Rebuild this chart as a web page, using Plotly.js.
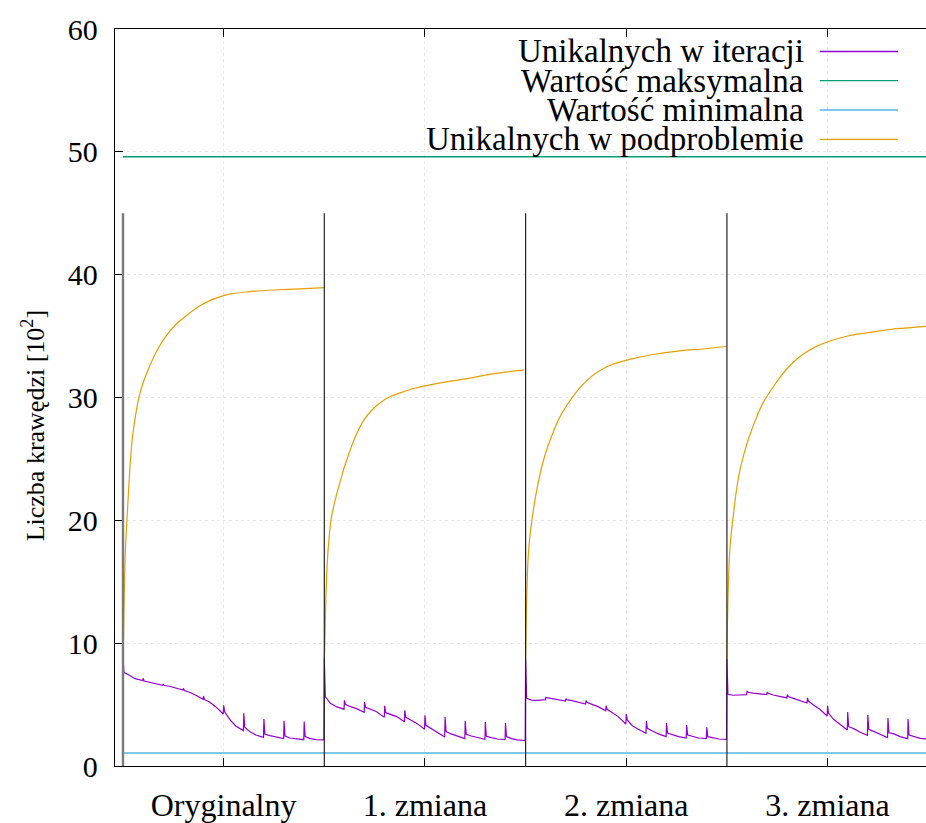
<!DOCTYPE html>
<html>
<head>
<meta charset="utf-8">
<script src="https://cdn.plot.ly/plotly-3.0.1.min.js"></script>
<style>
  html, body { margin: 0; padding: 0; background: #fff; }
  #chart { width: 926px; height: 823px; }
</style>
</head>
<body>
<div id="chart"></div>
<script>
// Problem variants (one block of iterations per variant)
const categories = ["Oryginalny", "1. zmiana", "2. zmiana", "3. zmiana"];
const segmentStarts = [0, 1, 2, 3];
const separatorTop = 45;

// Position of each iteration sample inside a block (0..1)
const iterPos = [
  0, 0.005, 0.03, 0.06,
  0.098, 0.1, 0.105, 0.13, 0.16,
  0.198, 0.2, 0.205, 0.23, 0.26,
  0.298, 0.3, 0.305, 0.33, 0.36,
  0.398, 0.4, 0.405, 0.43, 0.46,
  0.498, 0.5, 0.505, 0.53, 0.56,
  0.598, 0.6, 0.605, 0.63, 0.66,
  0.698, 0.7, 0.705, 0.73, 0.76,
  0.798, 0.8, 0.805, 0.83, 0.86,
  0.898, 0.9, 0.905, 0.93, 0.96,
  0.998
];

// Unique edges per iteration [10^2]
const iterOriginal = [
  8.85, 7.60, 7.41, 7.11,
  6.95, 7.14, 6.92, 6.81, 6.70,
  6.57, 6.68, 6.55, 6.49, 6.38,
  6.19, 6.32, 6.15, 6.00, 5.78,
  5.43, 5.70, 5.40, 5.21, 4.83,
  4.23, 4.94, 4.42, 3.80, 3.26,
  2.88, 4.29, 3.15, 2.80, 2.52,
  2.33, 3.83, 2.58, 2.47, 2.34,
  2.23, 3.69, 2.44, 2.28, 2.20,
  2.14, 3.61, 2.39, 2.23, 2.14,
  2.12
];
const iterChange1 = [
  8.77, 5.65, 5.10, 4.83,
  4.61, 5.35, 5.02, 4.83, 4.67,
  4.37, 5.21, 4.78, 4.59, 4.42,
  3.96, 4.91, 4.34, 4.18, 4.02,
  3.61, 4.53, 3.96, 3.75, 3.47,
  2.99, 4.13, 3.31, 3.07, 2.77,
  2.36, 3.99, 2.80, 2.61, 2.44,
  2.23, 3.66, 2.58, 2.44, 2.31,
  2.17, 3.58, 2.42, 2.31, 2.20,
  2.14, 3.50, 2.39, 2.23, 2.12,
  2.06
];
const iterChange2 = [
  8.77, 5.51, 5.37, 5.35,
  5.40, 5.59, 5.56, 5.48, 5.37,
  5.29, 5.48, 5.40, 5.32, 5.21,
  5.05, 5.32, 5.18, 5.02, 4.83,
  4.50, 4.91, 4.61, 4.34, 4.02,
  3.42, 4.23, 3.75, 3.28, 2.99,
  2.66, 3.66, 3.07, 2.85, 2.61,
  2.39, 3.50, 2.69, 2.55, 2.39,
  2.28, 3.34, 2.52, 2.42, 2.28,
  2.23, 3.15, 2.39, 2.28, 2.20,
  2.17
];
const iterChange3 = [
  8.71, 5.84, 5.76, 5.78,
  5.81, 6.13, 6.00, 5.94, 5.86,
  5.81, 6.00, 5.92, 5.78, 5.67,
  5.54, 5.81, 5.65, 5.51, 5.37,
  5.13, 5.54, 5.29, 4.97, 4.64,
  4.07, 4.91, 4.29, 3.80, 3.42,
  2.93, 4.40, 3.20, 3.04, 2.77,
  2.50, 4.15, 2.99, 2.80, 2.58,
  2.31, 3.91, 2.71, 2.61, 2.39,
  2.23, 3.83, 2.52, 2.39, 2.25,
  2.20
];

// Unique edges accumulated over the subproblem [10^2]
const subPosOriginal = [0, 0.002, 0.006, 0.012, 0.023, 0.034, 0.046, 0.062, 0.079, 0.1, 0.126, 0.165, 0.209, 0.26, 0.325, 0.38, 0.44, 0.523, 0.62, 0.755, 0.88, 1.0];
const subOriginal    = [8.85, 10.0, 13.8, 17.6, 21.0, 24.2, 26.6, 28.5, 30.0, 31.2, 32.3, 33.7, 34.9, 35.9, 36.8, 37.45, 37.95, 38.4, 38.6, 38.75, 38.85, 38.95];
const subPosChange1  = [0, 0.003, 0.008, 0.016, 0.025, 0.033, 0.049, 0.066, 0.083, 0.099, 0.124, 0.149, 0.19, 0.232, 0.28, 0.331, 0.39, 0.447, 0.563, 0.695, 0.828, 0.993];
const subChange1     = [8.77, 10.0, 13.8, 16.9, 18.8, 20.0, 21.3, 22.4, 23.4, 24.3, 25.5, 26.6, 28.0, 28.9, 29.6, 30.1, 30.45, 30.75, 31.15, 31.5, 31.9, 32.25];
const subPosChange2  = [0, 0.002, 0.006, 0.012, 0.022, 0.033, 0.05, 0.078, 0.1, 0.128, 0.17, 0.219, 0.27, 0.326, 0.37, 0.417, 0.517, 0.632, 0.765, 0.88, 0.997];
const subChange2     = [8.77, 11.0, 14.0, 16.8, 18.8, 20.2, 22.0, 24.2, 25.5, 26.8, 28.4, 29.7, 30.8, 31.7, 32.2, 32.6, 33.1, 33.5, 33.8, 33.95, 34.15];
const subPosChange3  = [0, 0.002, 0.006, 0.012, 0.021, 0.031, 0.047, 0.065, 0.088, 0.111, 0.145, 0.181, 0.24, 0.296, 0.345, 0.395, 0.45, 0.512, 0.611, 0.711, 0.843, 0.99];
const subChange3     = [8.71, 11.0, 14.0, 16.9, 18.9, 20.3, 22.4, 24.1, 25.6, 26.8, 28.3, 29.6, 31.1, 32.3, 33.1, 33.7, 34.2, 34.6, 35.05, 35.3, 35.6, 35.8];

// Bounds [10^2]
const maxValue = 49.6;
const minValue = 1.05;

const seriesNames = [
  "Unikalnych w iteracji",
  "Wartość maksymalna",
  "Wartość minimalna",
  "Unikalnych w podproblemie"
];
const seriesColors = ["#9400d3", "#009e73", "#56b4e9", "#e69f00"];

// Join per-variant blocks into one series along the x axis;
// with breakBlocks a gap is left between consecutive blocks
function joinBlocks(posList, valList, breakBlocks) {
  const xs = [], ys = [];
  posList.forEach((pos, s) => {
    if (breakBlocks && s > 0) { xs.push(null); ys.push(null); }
    pos.forEach((t, i) => { xs.push(segmentStarts[s] + t); ys.push(valList[s][i]); });
  });
  return { xs, ys };
}

const iterData = joinBlocks(
  [iterPos, iterPos, iterPos, iterPos],
  [iterOriginal, iterChange1, iterChange2, iterChange3], false
);
const subData = joinBlocks(
  [subPosOriginal, subPosChange1, subPosChange2, subPosChange3],
  [subOriginal, subChange1, subChange2, subChange3], true
);
const xEnd = segmentStarts[segmentStarts.length - 1] + 1;

const traces = [
  { x: iterData.xs, y: iterData.ys, name: seriesNames[0], mode: "lines",
    line: { color: seriesColors[0], width: 1.2 } },
  { x: [0, xEnd], y: [maxValue, maxValue], name: seriesNames[1], mode: "lines",
    line: { color: seriesColors[1], width: 1.5 } },
  { x: [0, xEnd], y: [minValue, minValue], name: seriesNames[2], mode: "lines",
    line: { color: seriesColors[2], width: 1.5 } },
  { x: subData.xs, y: subData.ys, name: seriesNames[3], mode: "lines", connectgaps: false,
    line: { color: seriesColors[3], width: 1.2, shape: "spline", smoothing: 0.8 } }
];

const FONT = "Liberation Serif, Times New Roman, serif";

// Block separators
const shapes = segmentStarts.map((b, i) => ({
  type: "line", xref: "x", yref: "y", x0: b, x1: b, y0: 0, y1: separatorTop,
  layer: "above",
  line: { color: i === 0 ? "#7a7a7a" : "#222", width: i === 0 ? 2.4 : 1.2 }
}));

// Key: text right-aligned, line sample to its right
const keyRowsY = [0.9695, 0.9299, 0.8901, 0.8503];
const annotations = [];
seriesNames.forEach((name, i) => {
  annotations.push({
    xref: "paper", yref: "paper", x: 0.8508, y: keyRowsY[i],
    xanchor: "right", yanchor: "middle", text: name, showarrow: false,
    borderpad: 0,
    font: { family: FONT, size: 33, color: "#000" }
  });
  shapes.push({
    type: "line", xref: "paper", yref: "paper",
    x0: 0.869, x1: 0.9655, y0: keyRowsY[i], y1: keyRowsY[i],
    line: { color: seriesColors[i], width: 1.3 }
  });
});

// Y axis label
annotations.push({
  xref: "paper", yref: "paper", x: -0.101, y: 0.461,
  xanchor: "center", yanchor: "middle", textangle: -90,
  text: "Liczba krawędzi [10<sup>2</sup>]", showarrow: false,
  font: { family: FONT, size: 26, color: "#000" }
});

const layout = {
  width: 926, height: 823,
  margin: { l: 115, r: 0, t: 29, b: 57 },
  paper_bgcolor: "#fff", plot_bgcolor: "#fff",
  showlegend: false,
  xaxis: {
    range: [-0.0397, 3.989],
    tickvals: [0.5, 1.5, 2.5, 3.5], ticktext: categories,
    ticks: "inside", ticklen: 8, tickcolor: "#000", tickwidth: 1,
    showline: true, linecolor: "#000", linewidth: 1.3, mirror: "ticks",
    showgrid: true, gridcolor: "#e8e8e8", griddash: "dot", gridwidth: 1,
    zeroline: false, ticklabelstandoff: 10,
    tickfont: { family: FONT, size: 32, color: "#000" }
  },
  yaxis: {
    range: [0, 60], tickvals: [0, 10, 20, 30, 40, 50, 60],
    ticks: "inside", ticklen: 8, tickcolor: "#000", tickwidth: 1,
    showline: true, linecolor: "#000", linewidth: 1.3,
    showgrid: true, gridcolor: "#e8e8e8", griddash: "dot", gridwidth: 1,
    zeroline: false, ticklabelstandoff: 10,
    tickfont: { family: FONT, size: 30, color: "#000" }
  },
  shapes: shapes,
  annotations: annotations
};

Plotly.newPlot("chart", traces, layout, { displayModeBar: false, staticPlot: true });
</script>
</body>
</html>
